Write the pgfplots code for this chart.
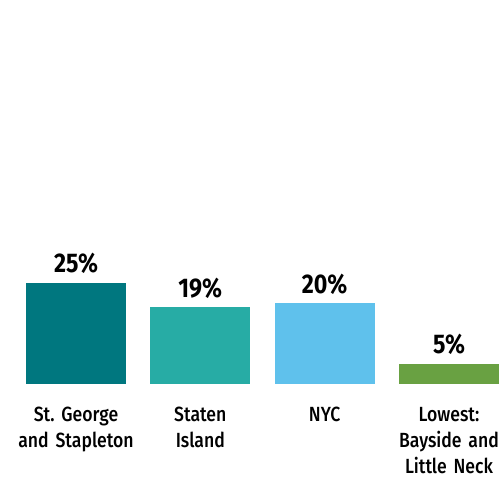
\documentclass[border=0pt]{standalone}
\usepackage{pgfplots}
\pgfplotsset{compat=1.18}
\usepackage{fontspec}
\setmainfont{Fira Sans}[FakeStretch=0.86, WordSpace=0.8, UprightFont={* Medium}, BoldFont={* Bold}]
\frenchspacing
\definecolor{c1}{HTML}{00777F}
\definecolor{c2}{HTML}{27ACA5}
\definecolor{c3}{HTML}{5FC1EC}
\definecolor{c4}{HTML}{69A142}
\begin{document}
\begin{tikzpicture}
\path[use as bounding box, fill=white] (0,0) rectangle (499pt,478pt);
\begin{axis}[
  at={(0pt,94pt)}, anchor=south west,
  scale only axis, width=499pt, height=384pt,
  xmin=-0.6113, xmax=3.4023, ymin=0, ymax=95.05,
  clip=false,
  axis line style={draw=none},
  major tick length=0pt,
  ytick=\empty,
  xtick={0,1,2,3},
  xticklabels={{St. George\\and Stapleton},{Staten\\Island},{NYC},{Lowest:\\Bayside and\\Little Neck}},
  xticklabel style={anchor=north, inner sep=0pt, yshift=-23pt, text width=140pt, align=center,
    font=\frenchspacing\fontsize{20.5}{26.3}\selectfont},
  ybar, bar width=100pt, bar shift=0pt,
  /pgf/number format/assume math mode=true,
  nodes near coords={\pgfmathprintnumber{\pgfplotspointmeta}\%},
  every node near coord/.append style={anchor=base, yshift=10pt, text=black,
    font=\bfseries\fontsize{27}{30}\selectfont},
]
\addplot[fill=c1, draw=none] coordinates {(0,25)};
\addplot[fill=c2, draw=none] coordinates {(1,19)};
\addplot[fill=c3, draw=none] coordinates {(2,20)};
\addplot[fill=c4, draw=none] coordinates {(3,5)};
\end{axis}
\end{tikzpicture}
\end{document}
